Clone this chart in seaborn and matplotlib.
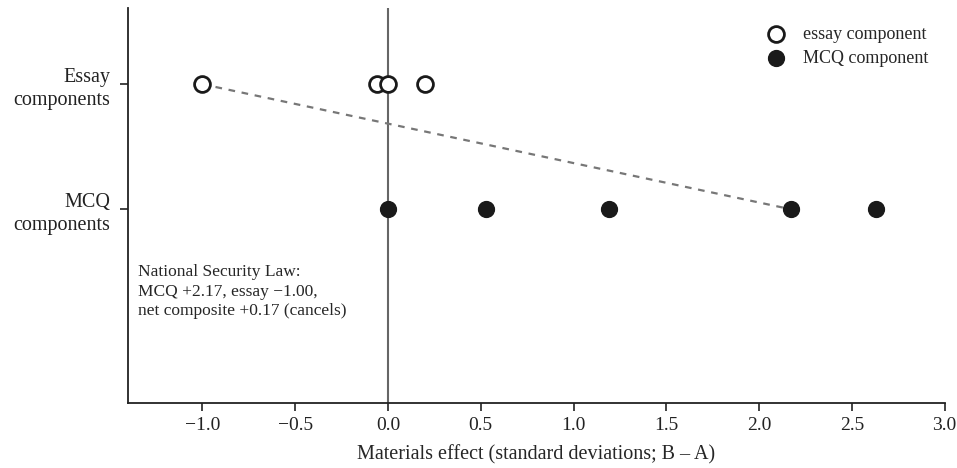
import numpy as np
import pandas as pd
import matplotlib
matplotlib.use('Agg')
import matplotlib.pyplot as plt
import seaborn as sns

# Data
essay_effects = [-1.00, -0.06, 0.00, 0.20]
mcq_effects = [0.00, 0.53, 1.19, 2.17, 2.63]
row_labels = ['Essay\ncomponents', 'MCQ\ncomponents']
row_pos = {'essay': 1, 'mcq': 0}
nsl_essay = -1.00
nsl_mcq = 2.17
x_ticks = [-1.0, -0.5, 0.0, 0.5, 1.0, 1.5, 2.0, 2.5, 3.0]

sns.set_style('ticks')
plt.rcParams['font.family'] = ['Liberation Serif', 'DejaVu Serif']
plt.rcParams['axes.unicode_minus'] = True

df = pd.DataFrame({
    'effect': essay_effects + mcq_effects,
    'row': [row_pos['essay']] * len(essay_effects) + [row_pos['mcq']] * len(mcq_effects),
    'kind': ['essay component'] * len(essay_effects) + ['MCQ component'] * len(mcq_effects),
})

fig, ax = plt.subplots(figsize=(9.57, 4.68), dpi=100)
fig.subplots_adjust(left=0.134, right=0.987, top=0.983, bottom=0.139)

ax.axvline(0, color='#666666', linewidth=1.5, zorder=1)
ax.plot([nsl_essay, nsl_mcq], [row_pos['essay'], row_pos['mcq']],
        linestyle=(0, (3, 3)), color='#777777', linewidth=1.6, zorder=1)

essay_df = df[df['kind'] == 'essay component']
mcq_df = df[df['kind'] == 'MCQ component']
sns.scatterplot(data=essay_df, x='effect', y='row', ax=ax, s=130,
                facecolor='white', edgecolor='#1a1a1a', linewidth=2,
                label='essay component', zorder=3)
sns.scatterplot(data=mcq_df, x='effect', y='row', ax=ax, s=130,
                color='#1a1a1a', edgecolor='#1a1a1a', linewidth=1,
                label='MCQ component', zorder=3)

ax.text(-1.35, -0.44, 'National Security Law:\nMCQ +2.17, essay \u22121.00,\nnet composite +0.17 (cancels)',
        fontsize=12.5, va='top', ha='left', linespacing=1.3)

ax.set_xlim(-1.4, 3.0)
ax.set_ylim(-1.55, 1.61)
ax.set_xticks(x_ticks)
ax.set_xticklabels([f'{t:.1f}'.replace('-', '\u2212') for t in x_ticks], fontsize=14)
ax.set_yticks([row_pos['essay'], row_pos['mcq']])
ax.set_yticklabels(row_labels, fontsize=14.5, multialignment='right', linespacing=1.3)
ax.tick_params(axis='y', pad=7)
ax.tick_params(axis='x', pad=4)
ax.set_xlabel('Materials effect (standard deviations; B \u2013 A)', fontsize=14.5, labelpad=8)
ax.set_ylabel('')
for side in ['top', 'right']:
    ax.spines[side].set_visible(False)
for side in ['left', 'bottom']:
    ax.spines[side].set_linewidth(1.3)
    ax.spines[side].set_color('#222222')
ax.tick_params(colors='#222222', width=1.2, length=6)

ax.legend(loc='upper right', bbox_to_anchor=(0.996, 0.987), frameon=False,
          fontsize=13, handletextpad=0.5, markerscale=1.0,
          borderaxespad=0.3, labelspacing=0.4)

plt.savefig('out.png', dpi=100)
plt.close()
